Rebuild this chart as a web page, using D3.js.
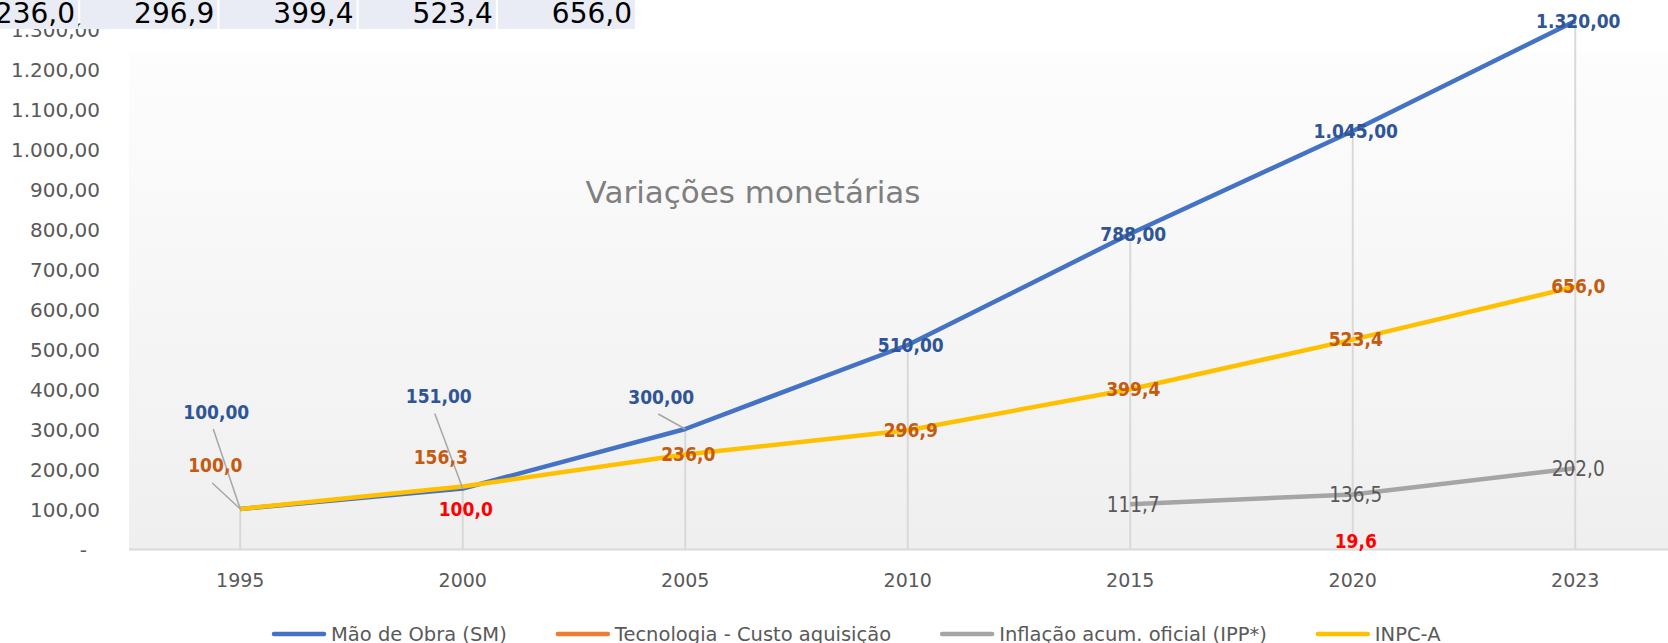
<!DOCTYPE html>
<html>
<head>
<meta charset="utf-8">
<script src="https://cdn.jsdelivr.net/npm/d3@7"></script>
<style>
  html, body { margin: 0; padding: 0; background: #fff; }
  svg { display: block; font-family: "DejaVu Sans", sans-serif; }
  .lbl { font-family: "DejaVu Sans Condensed", "DejaVu Sans", sans-serif; font-stretch: condensed; }
</style>
</head>
<body>
<svg width="1668" height="643"></svg>
<script>
// values
const years = ["1995", "2000", "2005", "2010", "2015", "2020", "2023"];
const maoDeObra = [100, 151, 300, 510, 788, 1045, 1320];
const tecnologia = [null, 100, null, null, null, 19.6, null];
const inflacao = [null, null, null, null, 111.7, 136.5, 202.0];
const inpc = [100, 156.3, 236.0, 296.9, 399.4, 523.4, 656.0];
const yTicks = [0, 100, 200, 300, 400, 500, 600, 700, 800, 900, 1000, 1100, 1200, 1300];
const tableValues = [236.0, 296.9, 399.4, 523.4, 656.0];   // spreadsheet row peeking over the chart
const seriesNames = ["Mão de Obra (SM)", "Tecnologia - Custo aquisição", "Inflação acum. oficial (IPP*)", "INPC-A"];
const chartTitle = "Variações monetárias";

const svg = d3.select("svg"),
    width = +svg.attr("width"),
    height = +svg.attr("height");

const plot = {left: 129, top: 53, bottom: 549, right: 1686.5};

const br = d3.formatLocale({decimal: ",", thousands: ".", grouping: [3], currency: ["R$", ""]});
const fmt2 = br.format(",.2f"),
    fmt1 = br.format(",.1f");

const series = [
  {name: seriesNames[0], values: maoDeObra, color: "#4472C4", label: "#2F5597", bold: true, fmt: fmt2},
  {name: seriesNames[1], values: tecnologia, color: "#ED7D31", label: "#FF0000", bold: true, fmt: fmt1},
  {name: seriesNames[2], values: inflacao, color: "#A5A5A5", label: "#595959", bold: false, fmt: fmt1},
  {name: seriesNames[3], values: inpc, color: "#FFC000", label: "#C55A11", bold: true, fmt: fmt1}
];

// labels that Excel had been dragged away from their points
const labelMoves = {
  "0-0": {dx: -24, dy: -97, leader: [-3, 17]},
  "0-1": {dx: -24, dy: -92, leader: [-4, 17]},
  "0-2": {dx: -24, dy: -32, leader: [-3, 17]},
  "3-0": {dx: -25, dy: -44, leader: [-3, 18]},
  "3-1": {dx: -22, dy: -29}
};

const x = d3.scaleBand()
    .domain(years)
    .range([plot.left, plot.right]);

const y = d3.scaleLinear()
    .domain([0, 1300])
    .range([plot.bottom, 29]);

const cx = d => x(d) + x.bandwidth() / 2;

// plot area fill
const grad = svg.append("defs").append("linearGradient")
    .attr("id", "bg").attr("x1", 0).attr("y1", 0).attr("x2", 0).attr("y2", 1);
grad.append("stop").attr("offset", "0%").attr("stop-color", "#fdfdfd");
grad.append("stop").attr("offset", "100%").attr("stop-color", "#efefef");

svg.append("rect")
    .attr("x", plot.left)
    .attr("y", plot.top)
    .attr("width", width - plot.left)
    .attr("height", plot.bottom - plot.top)
    .attr("fill", "url(#bg)");

// title sits inside the plot
svg.append("text")
    .attr("x", 753)
    .attr("y", 203)
    .attr("text-anchor", "middle")
    .attr("font-size", 31)
    .attr("fill", "#7f7f7f")
    .text(chartTitle);

// drop lines from the highest point of each year
const tops = years.map((yr, i) => ({year: yr, v: d3.max(series, s => s.values[i])}));
svg.append("g")
    .selectAll("line")
    .data(tops)
    .join("line")
    .attr("x1", d => cx(d.year))
    .attr("x2", d => cx(d.year))
    .attr("y1", d => y(d.v))
    .attr("y2", y(0))
    .attr("stroke", "#d9d9d9")
    .attr("stroke-width", 2);

// baseline
svg.append("line")
    .attr("x1", plot.left)
    .attr("x2", width)
    .attr("y1", y(0) + 0.5)
    .attr("y2", y(0) + 0.5)
    .attr("stroke", "#d9d9d9")
    .attr("stroke-width", 2);

// axes
const yAxis = svg.append("g")
    .attr("transform", `translate(${plot.left},0)`)
    .call(d3.axisLeft(y).tickValues(yTicks).tickSize(0).tickPadding(29)
        .tickFormat(v => v === 0 ? "-" : fmt2(v)));
yAxis.select(".domain").remove();
yAxis.attr("font-family", null).attr("font-size", 20);
yAxis.selectAll("text").attr("fill", "#595959").attr("dy", "0.36em");
yAxis.selectAll("text").filter(d => d === 0).attr("dx", -13);

const xAxis = svg.append("g")
    .attr("transform", `translate(0,${y(0)})`)
    .call(d3.axisBottom(x).tickSize(0).tickPadding(25));
xAxis.select(".domain").remove();
xAxis.attr("font-family", null).attr("font-size", 19);
xAxis.selectAll("text").attr("fill", "#595959");

// series lines
const line = d3.line()
    .defined(d => d.v != null)
    .x(d => cx(d.year))
    .y(d => y(d.v));

svg.append("g")
    .selectAll("path")
    .data(series)
    .join("path")
    .attr("d", s => line(years.map((yr, i) => ({year: yr, v: s.values[i]}))))
    .attr("fill", "none")
    .attr("stroke", s => s.color)
    .attr("stroke-width", 4.5)
    .attr("stroke-linejoin", "round")
    .attr("stroke-linecap", "butt");

// data labels
const labels = [];
series.forEach((s, si) => {
  s.values.forEach((v, i) => {
    if (v == null) return;
    const m = labelMoves[`${si}-${i}`] || {dx: 3, dy: 0};
    const px = cx(years[i]), py = y(v);
    labels.push({s, v, px, py, lx: px + m.dx, ly: py + m.dy, leader: m.leader});
  });
});

svg.append("g")
    .selectAll("line")
    .data(labels.filter(d => d.leader))
    .join("line")
    .attr("x1", d => d.lx + d.leader[0])
    .attr("y1", d => d.ly + d.leader[1])
    .attr("x2", d => d.px)
    .attr("y2", d => d.py)
    .attr("stroke", "#a6a6a6")
    .attr("stroke-width", 1.5);

svg.append("g")
    .selectAll("text")
    .data(labels)
    .join("text")
    .attr("class", "lbl")
    .attr("x", d => d.lx)
    .attr("y", d => d.ly)
    .attr("dy", "0.36em")
    .attr("text-anchor", "middle")
    .attr("font-size", d => d.s.bold ? 19 : 20.5)
    .attr("font-weight", d => d.s.bold ? "bold" : "normal")
    .attr("fill", d => d.s.label)
    .text(d => d.s.fmt(d.v));

// legend
const legend = svg.append("g").attr("transform", "translate(0,634)");
let lx = 272;
series.forEach(s => {
  legend.append("line")
      .attr("x1", lx + 2).attr("x2", lx + 52)
      .attr("stroke", s.color)
      .attr("stroke-width", 4.5)
      .attr("stroke-linecap", "round");
  const t = legend.append("text")
      .attr("x", lx + 59)
      .attr("dy", "0.36em")
      .attr("font-size", 19.5)
      .attr("fill", "#595959")
      .text(s.name);
  lx += 59 + t.node().getComputedTextLength() + 49;
});

// spreadsheet cells over the top of the chart
const cells = svg.append("g")
    .selectAll("g")
    .data(tableValues)
    .join("g")
    .attr("transform", (d, i) => `translate(${78 + i * 139.25},0)`);

cells.append("rect")
    .attr("x", -137)
    .attr("y", 0)
    .attr("width", 137)
    .attr("height", 29)
    .attr("fill", "#E9EBF5");

cells.append("text")
    .attr("x", -3)
    .attr("y", 23)
    .attr("text-anchor", "end")
    .attr("font-size", 28)
    .attr("fill", "#000")
    .text(d => fmt1(d));
</script>
</body>
</html>
